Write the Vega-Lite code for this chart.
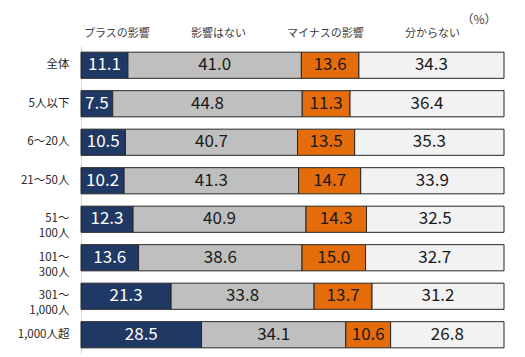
{
  "$schema": "https://vega.github.io/schema/vega-lite/v6.json",
  "width": 525,
  "height": 357,
  "autosize": {"type": "fit", "contains": "padding"},
  "padding": {"left": 17, "right": 20, "top": 14, "bottom": 3},
  "background": "white",
  "title": {"text": "（%）", "anchor": "end", "fontSize": 12, "fontWeight": "normal", "color": "#404040", "font": "Noto Sans CJK JP", "dx": -8, "offset": 1},
  "config": {"view": {"stroke": null}, "font": "Noto Sans CJK JP"},
  "data": {"values": [
    {"g": "全体", "t": "プラスの影響", "v": 11.1}, {"g": "全体", "t": "影響はない", "v": 41.0}, {"g": "全体", "t": "マイナスの影響", "v": 13.6}, {"g": "全体", "t": "分からない", "v": 34.3},
    {"g": "5人以下", "t": "プラスの影響", "v": 7.5}, {"g": "5人以下", "t": "影響はない", "v": 44.8}, {"g": "5人以下", "t": "マイナスの影響", "v": 11.3}, {"g": "5人以下", "t": "分からない", "v": 36.4},
    {"g": "6～20人", "t": "プラスの影響", "v": 10.5}, {"g": "6～20人", "t": "影響はない", "v": 40.7}, {"g": "6～20人", "t": "マイナスの影響", "v": 13.5}, {"g": "6～20人", "t": "分からない", "v": 35.3},
    {"g": "21～50人", "t": "プラスの影響", "v": 10.2}, {"g": "21～50人", "t": "影響はない", "v": 41.3}, {"g": "21～50人", "t": "マイナスの影響", "v": 14.7}, {"g": "21～50人", "t": "分からない", "v": 33.9},
    {"g": "51～|100人", "t": "プラスの影響", "v": 12.3}, {"g": "51～|100人", "t": "影響はない", "v": 40.9}, {"g": "51～|100人", "t": "マイナスの影響", "v": 14.3}, {"g": "51～|100人", "t": "分からない", "v": 32.5},
    {"g": "101～|300人", "t": "プラスの影響", "v": 13.6}, {"g": "101～|300人", "t": "影響はない", "v": 38.6}, {"g": "101～|300人", "t": "マイナスの影響", "v": 15.0}, {"g": "101～|300人", "t": "分からない", "v": 32.7},
    {"g": "301～|1,000人", "t": "プラスの影響", "v": 21.3}, {"g": "301～|1,000人", "t": "影響はない", "v": 33.8}, {"g": "301～|1,000人", "t": "マイナスの影響", "v": 13.7}, {"g": "301～|1,000人", "t": "分からない", "v": 31.2},
    {"g": "1,000人超", "t": "プラスの影響", "v": 28.5}, {"g": "1,000人超", "t": "影響はない", "v": 34.1}, {"g": "1,000人超", "t": "マイナスの影響", "v": 10.6}, {"g": "1,000人超", "t": "分からない", "v": 26.8}
  ]},
  "transform": [
    {"calculate": "indexof(['プラスの影響','影響はない','マイナスの影響','分からない'], datum.t)", "as": "k"},
    {"stack": "v", "groupby": ["g"], "sort": [{"field": "k", "order": "ascending"}], "as": ["s0", "s1"], "offset": "normalize"},
    {"calculate": "(datum.s0 + datum.s1) / 2", "as": "mid"}
  ],
  "encoding": {
    "y": {"field": "g", "type": "nominal", "sort": ["全体", "5人以下", "6～20人", "21～50人", "51～|100人", "101～|300人", "301～|1,000人", "1,000人超"],
      "scale": {"paddingInner": 0.32, "paddingOuter": 0.16},
      "axis": {"title": null, "ticks": false, "domain": true, "domainColor": "#d9d9d9", "labelPadding": 12, "labelFontSize": 11.5, "labelColor": "#262626", "labelExpr": "split(datum.label, '|')", "labelLineHeight": 15, "labelOverlap": false}
    }
  },
  "layer": [
    {
      "mark": {"type": "bar", "stroke": "#262626", "strokeWidth": 1},
      "encoding": {
        "x": {"field": "s0", "type": "quantitative", "scale": {"domain": [0, 1], "nice": false}, "axis": null},
        "x2": {"field": "s1"},
        "color": {"field": "t", "type": "nominal",
          "scale": {"domain": ["プラスの影響", "影響はない", "マイナスの影響", "分からない"], "range": ["#203864", "#bfbfbf", "#e46c0a", "#f2f2f2"]},
          "legend": {"title": null, "orient": "top", "direction": "horizontal", "symbolOpacity": 0, "symbolSize": 0, "symbolStrokeWidth": 0, "labelFontSize": 11, "labelColor": "#404040", "labelOffset": -8, "columnPadding": 38, "gridAlign": "none", "offset": 7, "padding": 0}
        }
      }
    },
    {
      "mark": {"type": "text", "fontSize": 17, "align": "center", "baseline": "middle"},
      "encoding": {
        "x": {"field": "mid", "type": "quantitative"},
        "text": {"field": "v", "type": "quantitative", "format": ".1f"},
        "color": {"condition": {"test": "datum.t === 'プラスの影響'", "value": "white"}, "value": "#1a1a1a"}
      }
    }
  ]
}
